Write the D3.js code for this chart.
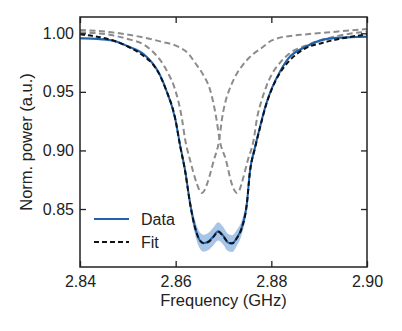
<!DOCTYPE html>
<html>
<head>
<meta charset="utf-8">
<script src="https://cdn.jsdelivr.net/npm/d3@7"></script>
<style>
  html, body { margin: 0; padding: 0; background: #fff; }
  svg { display: block; font-family: "Liberation Sans", Arial, sans-serif; }
</style>
</head>
<body>
<svg id="chart" width="402" height="331"></svg>
<script>
// ---- data ----
const xTicks = [2.84, 2.86, 2.88, 2.90];
const yTicks = [0.85, 0.90, 0.95, 1.00];
const xLabel = "Frequency (GHz)";
const yLabel = "Norm. power (a.u.)";
const legendLabels = ["Data", "Fit"];

// individual Lorentzian components (grey dashed)
const comp1Freq  = [2.8400, 2.8465, 2.8500, 2.8535, 2.8553, 2.8570, 2.8584, 2.8598, 2.8613, 2.8620, 2.8630, 2.8644, 2.8650, 2.8655, 2.8660, 2.8666, 2.8680, 2.8691, 2.8697, 2.8705, 2.8712, 2.8724, 2.8742, 2.8762, 2.8779, 2.8801, 2.8839, 2.8870, 2.8939, 2.9000];
const comp1Power = [1.0009, 0.9985, 0.9951, 0.9900, 0.9840, 0.9758, 0.9661, 0.9530, 0.9274, 0.9089, 0.8919, 0.8719, 0.8658, 0.8637, 0.8658, 0.8719, 0.8919, 0.9089, 0.9274, 0.9431, 0.9516, 0.9627, 0.9738, 0.9823, 0.9872, 0.9939, 0.9977, 0.9990, 1.0015, 1.0037];

const comp2Freq  = [2.8400, 2.8465, 2.8535, 2.8570, 2.8605, 2.8626, 2.8641, 2.8659, 2.8671, 2.8685, 2.8692, 2.8705, 2.8717, 2.8723, 2.8728, 2.8733, 2.8738, 2.8751, 2.8763, 2.8770, 2.8780, 2.8790, 2.8801, 2.8818, 2.8839, 2.8870, 2.8941, 2.9000];
const comp2Power = [1.0028, 1.0009, 0.9962, 0.9928, 0.9886, 0.9829, 0.9746, 0.9635, 0.9530, 0.9274, 0.9089, 0.8919, 0.8719, 0.8658, 0.8637, 0.8658, 0.8719, 0.8919, 0.9089, 0.9274, 0.9431, 0.9552, 0.9650, 0.9748, 0.9832, 0.9892, 0.9980, 1.0014];

// fit (black dashed)
const fitFreq  = [2.8400, 2.8465, 2.8500, 2.8535, 2.8551, 2.8563, 2.8580, 2.8599, 2.8609, 2.8620, 2.8630, 2.8640, 2.8648, 2.8658, 2.8668, 2.8678, 2.8689, 2.8700, 2.8709, 2.8718, 2.8728, 2.8738, 2.8749, 2.8755, 2.8766, 2.8776, 2.8789, 2.8801, 2.8818, 2.8836, 2.8871, 2.8906, 2.8941, 2.9000];
const fitPower = [0.9991, 0.9943, 0.9887, 0.9800, 0.9742, 0.9672, 0.9516, 0.9274, 0.9046, 0.8818, 0.8549, 0.8349, 0.8252, 0.8210, 0.8218, 0.8257, 0.8306, 0.8265, 0.8218, 0.8207, 0.8252, 0.8335, 0.8549, 0.8807, 0.9021, 0.9189, 0.9388, 0.9524, 0.9661, 0.9758, 0.9872, 0.9917, 0.9951, 0.9991];

// measured data (blue) with its uncertainty band
const dataFreq  = [2.8400, 2.8465, 2.8500, 2.8535, 2.8551, 2.8563, 2.8580, 2.8599, 2.8609, 2.8620, 2.8630, 2.8640, 2.8648, 2.8658, 2.8668, 2.8678, 2.8689, 2.8700, 2.8709, 2.8718, 2.8728, 2.8738, 2.8749, 2.8755, 2.8766, 2.8776, 2.8789, 2.8801, 2.8818, 2.8836, 2.8871, 2.8906, 2.8941, 2.9000];
const dataPower = [0.9957, 0.9940, 0.9889, 0.9815, 0.9748, 0.9676, 0.9518, 0.9270, 0.9050, 0.8822, 0.8553, 0.8352, 0.8250, 0.8208, 0.8221, 0.8262, 0.8310, 0.8268, 0.8215, 0.8205, 0.8255, 0.8340, 0.8553, 0.8812, 0.9030, 0.9196, 0.9395, 0.9530, 0.9672, 0.9787, 0.9883, 0.9943, 0.9962, 0.9971];
const dataErr   = [0.0010, 0.0010, 0.0010, 0.0012, 0.0014, 0.0016, 0.0020, 0.0026, 0.0032, 0.0040, 0.0050, 0.0060, 0.0068, 0.0072, 0.0074, 0.0076, 0.0078, 0.0076, 0.0074, 0.0072, 0.0068, 0.0060, 0.0050, 0.0040, 0.0032, 0.0026, 0.0020, 0.0016, 0.0014, 0.0012, 0.0010, 0.0010, 0.0010, 0.0010];

// ---- layout ----
const m = { left: 80, right: 367, top: 17, bottom: 267 };
const svg = d3.select("#chart");

const x = d3.scaleLinear().domain([2.84, 2.90]).range([m.left, m.right]);
const y = d3.scaleLinear().domain([0.8005, 1.0139]).range([m.bottom, m.top]);

svg.append("defs").append("clipPath").attr("id", "clip")
  .append("rect").attr("x", m.left).attr("y", m.top)
  .attr("width", m.right - m.left).attr("height", m.bottom - m.top);

const plot = svg.append("g").attr("clip-path", "url(#clip)");

const zip = (fs, ps) => fs.map((f, i) => ({ f, p: ps[i] }));
const line = d3.line().x(d => x(d.f)).y(d => y(d.p)).curve(d3.curveMonotoneX);

// band
const bandData = dataFreq.map((f, i) => ({ f, lo: dataPower[i] - dataErr[i], hi: dataPower[i] + dataErr[i] }));
plot.append("path")
  .datum(bandData)
  .attr("d", d3.area().x(d => x(d.f)).y0(d => y(d.lo)).y1(d => y(d.hi)).curve(d3.curveMonotoneX))
  .attr("fill", "#a9c5e6").attr("stroke", "none");

// grey components
[[comp1Freq, comp1Power], [comp2Freq, comp2Power]].forEach(([fs, ps]) => {
  plot.append("path").datum(zip(fs, ps)).attr("d", line)
    .attr("fill", "none").attr("stroke", "#8c8c8c").attr("stroke-width", 2)
    .attr("stroke-dasharray", "6,3.5");
});

// data line
plot.append("path").datum(zip(dataFreq, dataPower)).attr("d", line)
  .attr("fill", "none").attr("stroke", "#1f62ad").attr("stroke-width", 2);

// fit line
plot.append("path").datum(zip(fitFreq, fitPower)).attr("d", line)
  .attr("fill", "none").attr("stroke", "#111").attr("stroke-width", 2)
  .attr("stroke-dasharray", "5,3");

// ---- axes ----
const tickLen = 6;
const axisColor = "#222";
const fontSize = 16;

const gx = svg.append("g").attr("transform", `translate(0,${m.bottom})`)
  .call(d3.axisBottom(x).tickValues(xTicks).tickFormat(d3.format(".2f")).tickSize(-tickLen).tickPadding(9));
const gxTop = svg.append("g").attr("transform", `translate(0,${m.top})`)
  .call(d3.axisTop(x).tickValues(xTicks).tickFormat("").tickSize(-tickLen));
const gy = svg.append("g").attr("transform", `translate(${m.left},0)`)
  .call(d3.axisLeft(y).tickValues(yTicks).tickFormat(d3.format(".2f")).tickSize(-tickLen).tickPadding(6));
const gyR = svg.append("g").attr("transform", `translate(${m.right},0)`)
  .call(d3.axisRight(y).tickValues(yTicks).tickFormat("").tickSize(-tickLen));

[gx, gxTop, gy, gyR].forEach(g => {
  g.select(".domain").remove();
  g.selectAll(".tick line").attr("stroke", axisColor).attr("stroke-width", 1.3);
  g.selectAll(".tick text").attr("fill", axisColor).attr("font-size", fontSize)
    .attr("font-family", "'Liberation Sans', Arial, sans-serif");
});

svg.append("rect")
  .attr("x", m.left).attr("y", m.top)
  .attr("width", m.right - m.left).attr("height", m.bottom - m.top)
  .attr("fill", "none").attr("stroke", axisColor).attr("stroke-width", 1.5);

// axis labels
svg.append("text").attr("x", (m.left + m.right) / 2).attr("y", 306)
  .attr("text-anchor", "middle").attr("font-size", 16.5).attr("fill", axisColor)
  .text(xLabel);
svg.append("text").attr("transform", `translate(32,${(m.top + m.bottom) / 2}) rotate(-90)`)
  .attr("text-anchor", "middle").attr("font-size", 16.5).attr("fill", axisColor)
  .text(yLabel);

// legend
const legend = svg.append("g");
const legY = [219, 242];
legend.append("line").attr("x1", 94).attr("x2", 129).attr("y1", legY[0]).attr("y2", legY[0])
  .attr("stroke", "#1f62ad").attr("stroke-width", 2);
legend.append("line").attr("x1", 94).attr("x2", 129).attr("y1", legY[1]).attr("y2", legY[1])
  .attr("stroke", "#111").attr("stroke-width", 2).attr("stroke-dasharray", "5,3");
legendLabels.forEach((t, i) => {
  legend.append("text").attr("x", 141).attr("y", legY[i]).attr("dy", "0.36em")
    .attr("font-size", fontSize).attr("fill", axisColor).text(t);
});
</script>
</body>
</html>
